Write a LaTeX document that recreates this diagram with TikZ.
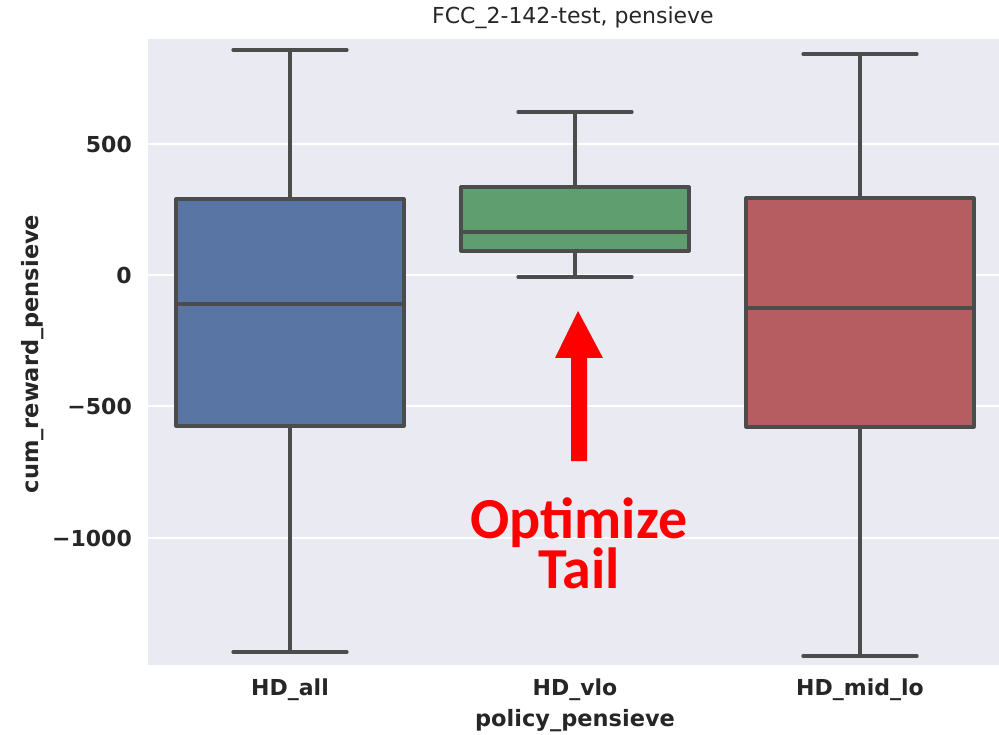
\documentclass[tikz,border=0pt]{standalone}
\usepackage{fontspec}
\setmainfont{DejaVu Sans}
\newfontfamily\calloutfont{Carlito}
\definecolor{panel}{HTML}{EAEAF2}
\definecolor{edgegray}{HTML}{4C4C4C}
\definecolor{boxblue}{HTML}{5875A4}
\definecolor{boxgreen}{HTML}{5F9E6E}
\definecolor{boxred}{HTML}{B55D60}
\definecolor{labelgray}{HTML}{262626}
\tikzset{
  gridline/.style={draw=white, line width=2pt},
  boxedge/.style={draw=edgegray, line width=3.2pt, line join=round},
  whisk/.style={draw=edgegray, line width=3.2pt, line cap=round},
  ticklabel/.style={font=\bfseries\fontsize{22}{26}\selectfont, text=labelgray, inner sep=0pt},
  axislabel/.style={font=\bfseries\fontsize{22.5}{26}\selectfont, text=labelgray, inner sep=0pt},
  callout/.style={font=\calloutfont\bfseries\fontsize{58}{58}\selectfont, text=red, inner sep=0pt}
}
% #1 centre x, #2 upper quartile, #3 median, #4 lower quartile,
% #5 upper whisker, #6 lower whisker, #7 fill colour
\newcommand\boxwhisker[7]{%
  \draw[whisk] (#1,#5) -- (#1,#2);
  \draw[whisk] (#1,#4) -- (#1,#6);
  \draw[whisk] ({#1-57},#5) -- ({#1+57},#5);
  \draw[whisk] ({#1-57},#6) -- ({#1+57},#6);
  \filldraw[boxedge, fill=#7] ({#1-114},#2) rectangle ({#1+114},#4);
  \draw[boxedge] ({#1-114},#3) -- ({#1+114},#3);
}
\begin{document}
\begin{tikzpicture}[x=1pt,y=-1pt]
\useasboundingbox (0,0) rectangle (999,735);
% plotting panel and horizontal grid
\fill[panel] (148,39) rectangle (999,665);
\foreach \yy in {144,275,406,538} {
  \draw[gridline] (148,\yy) -- (999,\yy);
}
% boxes
\boxwhisker{290}{199}{304}{426}{50}{652}{boxblue}
\boxwhisker{575}{187}{232}{251}{112}{277}{boxgreen}
\boxwhisker{860}{198}{308}{427}{54}{656}{boxred}
% y tick labels
\node[ticklabel, anchor=east] (t500) at (132,144) {500};
\node[ticklabel, anchor=east] (t0) at (132,275) {0};
\node[ticklabel, anchor=east] (tm500) at (132,406) {−500};
\node[ticklabel, anchor=east] (tm1000) at (132,538) {−1000};
% x tick labels
\node[ticklabel] (xall) at (290,690) {HD\_all};
\node[ticklabel] (xvlo) at (575,690) {HD\_vlo};
\node[ticklabel] (xmid) at (860,690) {HD\_mid\_lo};
% axis labels and title
\node[axislabel] (xlab) at (575,721) {policy\_pensieve};
\node[axislabel, rotate=90] (ylab) at (33,354) {cum\_reward\_pensieve};
\node[font=\fontsize{22}{26}\selectfont, text=labelgray, inner sep=0pt] (title) at (573,18) {FCC\_2-142-test, pensieve};
% annotation
\node[callout, anchor=base, text depth=5pt] (note1) at (579,538) {Optimize};
\node[callout, anchor=base, text height=38pt] (note2) at (579,588) {Tail};
\coordinate (arrowtip) at (578,311);
\fill[red] (571,461) -- (571,358) -- (555,358) -- (arrowtip) -- (603,358) -- (587,358) -- (587,461) -- cycle;
\end{tikzpicture}
\end{document}
